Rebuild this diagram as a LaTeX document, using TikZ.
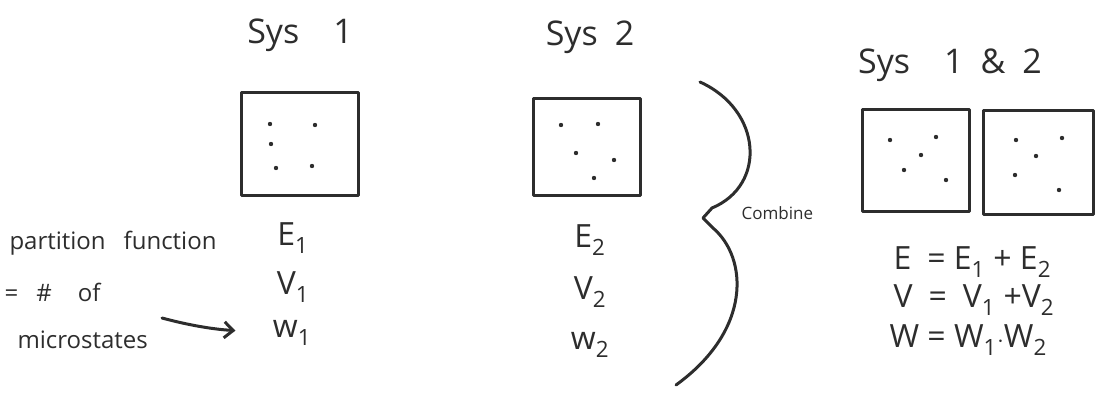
\documentclass[tikz,border=0pt]{standalone}
\usepackage{fontspec}
\setmainfont{Open Sans}
\usetikzlibrary{arrows.meta}
\definecolor{ink}{RGB}{45,45,45}
\tikzset{
    lab/.style={
        text=ink, font=\fontsize{34}{40}\selectfont
    }
}

\begin{document}
\begin{tikzpicture}[x=1pt,y=-1pt, line cap=round, line join=round]

% background
\useasboundingbox (0,0) rectangle (1096,397);

\tikzset{
  main/.style={draw=ink, line width=3pt},
  sbox/.style={draw=ink, line width=3pt, inner sep=0pt},
  var/.style={text=ink, font=\fontsize{32}{38}\selectfont},
  eqn/.style={text=ink, font=\fontsize{32}{38}\selectfont, anchor=west},
  note/.style={text=ink, font=\fontsize{24}{28}\selectfont, anchor=west},
}

% boxes
\node[sbox, minimum width=117pt, minimum height=103pt] (box1)  at (299.5,143.5) {};
\node[sbox, minimum width=107pt, minimum height=97pt]  (box2)  at (587,147) {};
\node[sbox, minimum width=107pt, minimum height=102pt] (box3a) at (916,160) {};
\node[sbox, minimum width=110pt, minimum height=104pt] (box3b) at (1038,162) {};

% particles
\foreach \p in {(270,124),(315,125),(271,144),(276,168),(312,166)}
  \fill[ink] \p circle (2.2pt);
\foreach \p in {(561,125),(598,124),(576,153),(614,160),(594,178)}
  \fill[ink] \p circle (2.2pt);
\foreach \p in {(890,140),(936,137),(921,155),(904,170),(946,180)}
  \fill[ink] \p circle (2.2pt);
\foreach \p in {(1016,140),(1062,138),(1036,156),(1015,175),(1059,190)}
  \fill[ink] \p circle (2.2pt);

% titles
\node[lab] (sys1)  at (300,35) {Sys\quad 1};
\node[lab] (sys2)  at (590,37) {Sys\enspace 2};
\node[lab] (sys12) at (950,65) {Sys\quad 1\enspace\&\enspace 2};

% variables
\node[var] (e1) at (293,238) {E\textsubscript{1}};
\node[var] (v1) at (293,287) {V\textsubscript{1}};
\node[var] (w1) at (292,333) {w\textsubscript{1}};

\node[var] (e2) at (590,240) {E\textsubscript{2}};
\node[var] (v2) at (590,292) {V\textsubscript{2}};
\node[var] (w2) at (590,345) {w\textsubscript{2}};

% combined
\node[eqn] (etot) at (890,262) {E\enspace = E\textsubscript{1} + E\textsubscript{2}};
\node[eqn] (vtot) at (890,300) {V\enspace =\enspace V\textsubscript{1} +V\textsubscript{2}};
\node[eqn] (wtot) at (886,340) {W = W\textsubscript{1}$\cdot$W\textsubscript{2}};

% brace
\coordinate (brtop) at (700,82);
\coordinate (brtip) at (703,218);
\coordinate (brbot) at (676,385);
\draw[main] (brtop) .. controls (762,110) and (767,185) .. (712,208)
  -- (brtip) -- (713,228) .. controls (748,258) and (752,330) .. (brbot);
\node[text=ink, font=\fontsize{17}{20}\selectfont, anchor=west] (comb) at (738,213) {Combine};

% note
\node[note] (part)  at (6,243)  {partition\hspace{18pt}function};
\node[note] (numof) at (1,292)  {=\hspace{18pt}\#\hspace{26pt}of};
\node[note] (micro) at (14,340) {microstates};

\coordinate (arrstart) at (162,318);
\draw[main, -{Straight Barb[length=9pt,width=16pt]}, shorten >=34pt]
  (arrstart) to[out=-15,in=176] (w1.west);

\end{tikzpicture}
\end{document}
